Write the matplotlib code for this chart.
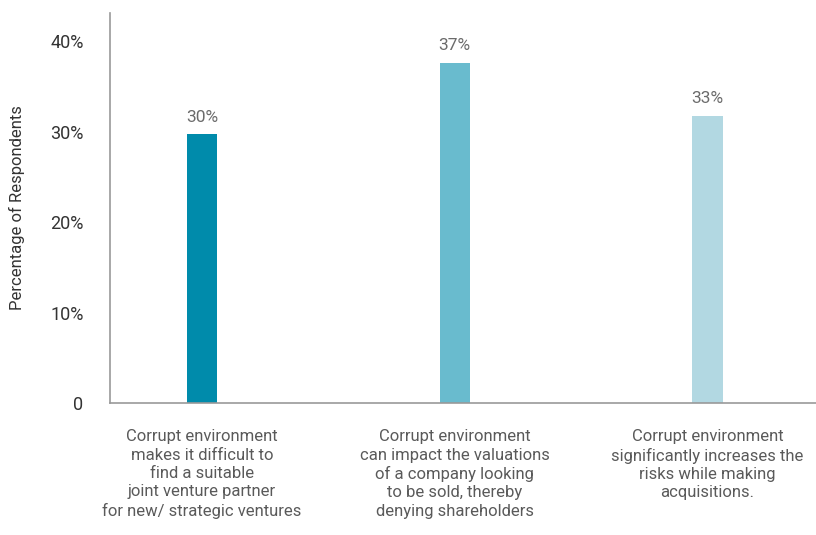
import matplotlib
matplotlib.use("Agg")
import matplotlib.pyplot as plt
from matplotlib.ticker import FuncFormatter

plt.rcParams['font.family'] = ['Roboto', 'DejaVu Sans']

categories = [
    "Corrupt environment\nmakes it difficult to\nfind a suitable\njoint venture partner\nfor new/ strategic ventures",
    "Corrupt environment\ncan impact the valuations\nof a company looking\nto be sold, thereby\ndenying shareholders",
    "Corrupt environment\nsignificantly increases the\nrisks while making\nacquisitions.",
]
values = [29.7, 37.6, 31.7]
value_labels = ["30%", "37%", "33%"]
yticks = [0, 10, 20, 30, 40]
colors = ["#008bab", "#69bbce", "#b2d8e2"]

fig = plt.figure(figsize=(8.16, 5.35), dpi=100)
ax = fig.add_axes([110 / 816, 132 / 535, 1 - 110 / 816, 390 / 535])

x = range(len(values))
ax.bar(x, values, width=0.12, color=colors)
ax.set_xlim(-0.364, 2.43)
ax.set_ylim(0, 43.1)

for i, (v, lab) in enumerate(zip(values, value_labels)):
    ax.annotate(lab, xy=(i, v), xytext=(0, 7), textcoords="offset points",
                ha="center", va="bottom", fontsize=12.5, color="#6b6b6b")

for i, cat in enumerate(categories):
    ax.annotate(cat, xy=(i, 0), xycoords=("data", "axes fraction"),
                xytext=(0, -19), textcoords="offset points",
                ha="center", va="top", fontsize=12, color="#5a5a5a",
                linespacing=1.27, annotation_clip=False)

ax.set_yticks(yticks)
ax.yaxis.set_major_formatter(FuncFormatter(lambda v, p: "0" if v == 0 else f"{v:.0f}%"))
ax.tick_params(axis="y", length=0, pad=19, labelsize=13, labelcolor="#333333")
ax.set_xticks([])
ax.set_ylabel("Percentage of Respondents", fontsize=12, color="#333333")
ax.yaxis.set_label_coords(-85 / 706, 0.5)

for s in ["top", "right"]:
    ax.spines[s].set_visible(False)
for s in ["left", "bottom"]:
    ax.spines[s].set_color("#999999")
    ax.spines[s].set_linewidth(1.2)

fig.savefig("out.png", dpi=100)
